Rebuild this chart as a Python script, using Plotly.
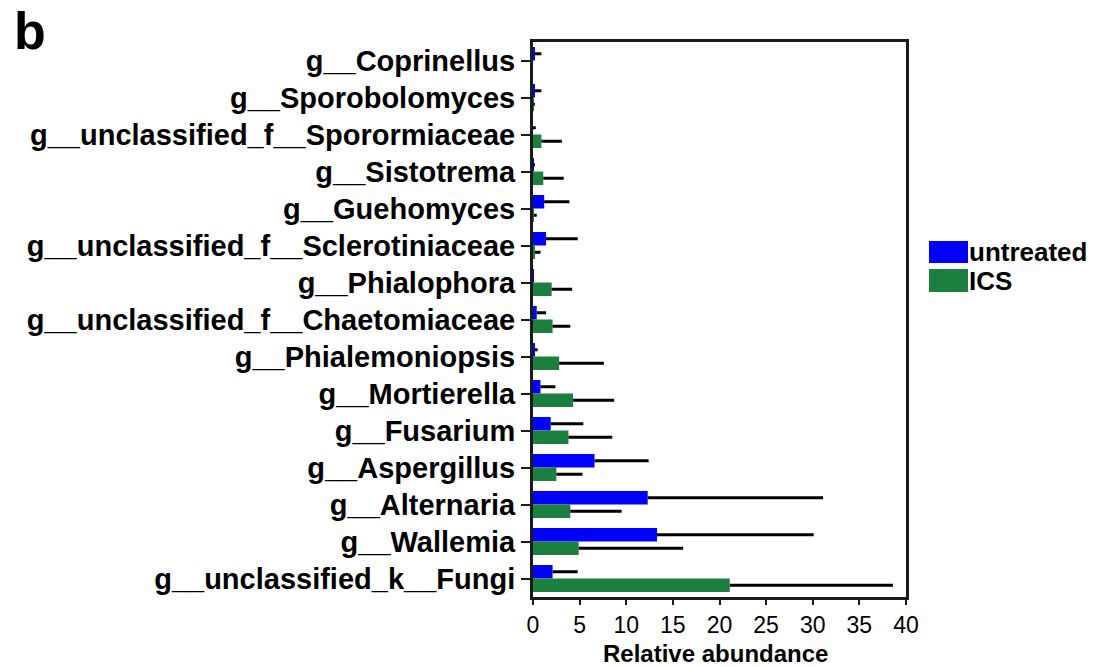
import plotly.graph_objects as go

# Genera listed top to bottom
genera = [
    "g__Coprinellus",
    "g__Sporobolomyces",
    "g__unclassified_f__Sporormiaceae",
    "g__Sistotrema",
    "g__Guehomyces",
    "g__unclassified_f__Sclerotiniaceae",
    "g__Phialophora",
    "g__unclassified_f__Chaetomiaceae",
    "g__Phialemoniopsis",
    "g__Mortierella",
    "g__Fusarium",
    "g__Aspergillus",
    "g__Alternaria",
    "g__Wallemia",
    "g__unclassified_k__Fungi",
]

untreated_mean = [0.2, 0.2, 0.0, 0.05, 1.2, 1.4, 0.05, 0.4, 0.2, 0.8, 1.9, 6.6, 12.3, 13.3, 2.1]
untreated_sd = [0.7, 0.7, 0.3, 0.15, 2.7, 3.4, 0.05, 1.0, 0.3, 1.6, 3.5, 5.8, 18.8, 16.8, 2.7]
ics_mean = [0.0, 0.05, 0.9, 1.1, 0.1, 0.2, 2.0, 2.1, 2.8, 4.3, 3.8, 2.5, 4.0, 4.9, 21.1]
ics_sd = [0.0, 0.15, 2.2, 2.2, 0.3, 0.6, 2.2, 1.9, 4.8, 4.4, 4.7, 2.8, 5.5, 11.2, 17.5]

x_ticks = [0, 5, 10, 15, 20, 25, 30, 35, 40]

BLUE = "#0000FF"
GREEN = "#1B7F3F"
FONT = "Liberation Sans"

W, H = 1097, 667
ML, MR, MT, MB = 533, 191, 42, 70
PW, PH = W - ML - MR, H - MT - MB


def px_x(x):
    return (x - ML) / PW


def px_y(y):
    return (H - MB - y) / PH


def err(sd):
    return dict(type="data", symmetric=False, array=sd, arrayminus=[0] * len(sd),
                color="black", thickness=3, width=0)


fig = go.Figure()
fig.add_trace(go.Bar(
    name="untreated", y=genera, x=untreated_mean, orientation="h",
    marker=dict(color=BLUE, line=dict(width=0)), error_x=err(untreated_sd),
))
fig.add_trace(go.Bar(
    name="ICS", y=genera, x=ics_mean, orientation="h",
    marker=dict(color=GREEN, line=dict(width=0)), error_x=err(ics_sd),
))

fig.update_layout(
    width=W, height=H,
    margin=dict(l=ML, r=MR, t=MT, b=MB, pad=0),
    paper_bgcolor="white", plot_bgcolor="white",
    barmode="group", bargap=0.27, bargroupgap=0,
    showlegend=False,
    font=dict(family=FONT, color="black"),
)

fig.update_yaxes(
    categoryorder="array", categoryarray=genera, autorange="reversed",
    automargin=False,
    showline=True, linecolor="#1a1a1a", linewidth=3, mirror=True,
    ticks="outside", ticklen=9, tickwidth=2, tickcolor="#1a1a1a",
    tickfont=dict(family=FONT, size=29, weight="bold", color="black"),
    showgrid=False, zeroline=False,
)
fig.update_xaxes(
    range=[0, 40], tickvals=x_ticks, ticktext=[str(v) for v in x_ticks],
    automargin=False,
    showline=True, linecolor="#1a1a1a", linewidth=3, mirror=True,
    ticks="outside", ticklen=5, tickwidth=2, tickcolor="#1a1a1a",
    tickfont=dict(family=FONT, size=23, color="black"),
    showgrid=False, zeroline=False,
)

# X-axis title
fig.add_annotation(text="Relative abundance", xref="paper", yref="paper",
                   x=px_x(715), y=px_y(638), xanchor="center", yanchor="top",
                   showarrow=False,
                   font=dict(family=FONT, size=24, weight="bold", color="black"))

# Legend swatches and labels
legend_items = [("untreated", BLUE, 241, 263), ("ICS", GREEN, 269, 292)]
for label, color, top, bottom in legend_items:
    fig.add_shape(type="rect", xref="paper", yref="paper",
                  x0=px_x(929), x1=px_x(968), y0=px_y(bottom), y1=px_y(top),
                  fillcolor=color, line=dict(width=0))
    fig.add_annotation(text=label, xref="paper", yref="paper",
                       x=px_x(967), y=px_y((top + bottom) / 2),
                       xanchor="left", yanchor="middle", showarrow=False,
                       font=dict(family=FONT, size=26, weight="bold", color="black"))

# Panel letter
fig.add_annotation(text="b", xref="paper", yref="paper",
                   x=px_x(12), y=px_y(0), xanchor="left", yanchor="top",
                   showarrow=False,
                   font=dict(family=FONT, size=52, weight="bold", color="black"))

fig.write_html("out.html")
